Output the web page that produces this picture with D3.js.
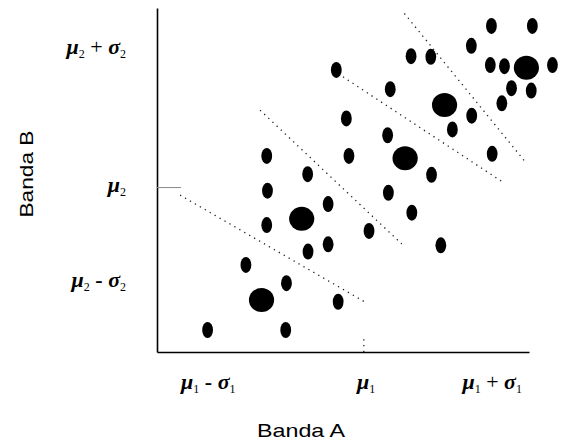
<!DOCTYPE html>
<html>
<head>
<meta charset="utf-8">
<script src="https://cdn.jsdelivr.net/npm/d3@7/dist/d3.min.js"></script>
<style>
  body { margin: 0; background: #fff; }
  text { fill: #000; }
</style>
</head>
<body>
<script>
// pixel values in plot units (0..100 on each axis)
var smallPts = [
  [13.6, 6.4], [34.6, 6.4], [23.9, 25.3], [34.8, 20.0], [48.7, 14.6],
  [40.6, 29.2], [46.0, 31.3], [29.5, 36.9], [29.7, 46.9], [29.5, 57.0],
  [40.5, 51.7], [46.0, 43.0], [51.6, 57.0], [50.9, 67.9], [57.0, 35.2],
  [62.2, 46.3], [62.0, 63.0], [73.8, 51.5], [68.5, 40.5], [76.3, 31.0],
  [48.2, 82.0], [62.7, 76.4], [68.3, 86.0], [73.6, 85.8], [84.6, 68.7],
  [79.4, 64.7], [90.1, 57.6], [84.5, 89.0], [89.9, 94.8], [100.9, 94.8],
  [89.6, 83.4], [93.4, 83.1], [106.3, 83.4], [95.3, 76.7], [100.6, 76.0],
  [92.7, 72.3]
]
var bigPts = [[28.1, 15.1], [38.9, 38.7], [66.7, 56.3], [77.3, 71.8], [99.3, 82.6]]

// decision boundaries between the classes
var dividers = [
  [[66.5, 98.4], [99.2, 55.0]],
  [[50.0, 80.0], [93.5, 49.0]],
  [[27.7, 70.3], [65.8, 31.4]],
  [[6.2, 45.6], [55.8, 14.6]]
]
var muMark = [[55.6, 0], [55.6, 4.9]]

var xTickVals = [13.8, 56.2, 90.1]
var xTickLabels = [["\u03bc", "1", " - ", "\u03c3", "1"], ["\u03bc", "1"], ["\u03bc", "1", " + ", "\u03c3", "1"]]
var yTickVals = [87.8, 47.8, 20.1]
var yTickLabels = [["\u03bc", "2", " + ", "\u03c3", "2"], ["\u03bc", "2"], ["\u03bc", "2", " - ", "\u03c3", "2"]]
var yMarkVal = 47.8

var c = {totalWidth: 566, totalHeight: 441, margin: {top: 8, right: 37, bottom: 89, left: 157}}
c.width = c.totalWidth - c.margin.left - c.margin.right
c.height = c.totalHeight - c.margin.top - c.margin.bottom

var svg = d3.select('body').append('svg')
    .attr('width', c.totalWidth)
    .attr('height', c.totalHeight)
  .append('g')
    .attr('transform', 'translate(' + c.margin.left + ',' + c.margin.top + ')')

var x = d3.scaleLinear().domain([0, 100]).range([0, c.width])
var y = d3.scaleLinear().domain([0, 100]).range([c.height, 0])
var line = d3.line().x(function(d){ return x(d[0]) }).y(function(d){ return y(d[1]) })

// axes: just the lines, labels are drawn by hand below
svg.append('g')
    .attr('class', 'x axis')
    .attr('transform', 'translate(0,' + c.height + ')')
    .call(d3.axisBottom(x).tickValues([]).tickSizeOuter(0))
svg.append('g')
    .attr('class', 'y axis')
    .call(d3.axisLeft(y).tickValues([]).tickSizeOuter(0))
svg.selectAll('.axis path').attr('stroke', '#000').attr('stroke-width', 1.6)

svg.append('line')
    .attr('x1', 0).attr('x2', 24)
    .attr('y1', y(yMarkVal)).attr('y2', y(yMarkVal))
    .attr('stroke', '#888').attr('stroke-width', 1)

svg.selectAll('.divider')
    .data(dividers.concat([muMark]))
  .enter().append('path')
    .attr('class', 'divider')
    .attr('d', line)
    .attr('fill', 'none')
    .attr('stroke', '#222')
    .attr('stroke-width', 1.3)
    .attr('stroke-dasharray', '1.3,4.4')

svg.selectAll('.pt')
    .data(smallPts)
  .enter().append('ellipse')
    .attr('class', 'pt')
    .attr('cx', function(d){ return x(d[0]) })
    .attr('cy', function(d){ return y(d[1]) })
    .attr('rx', 5.4).attr('ry', 8)
    .attr('fill', '#000')

svg.selectAll('.centre')
    .data(bigPts)
  .enter().append('ellipse')
    .attr('class', 'centre')
    .attr('cx', function(d){ return x(d[0]) })
    .attr('cy', function(d){ return y(d[1]) })
    .attr('rx', 12.6).attr('ry', 12)
    .attr('fill', '#000')

// greek letter, subscript, operator, greek letter, subscript
function mathLabel(sel, parts){
  parts.forEach(function(p, i){
    var ts = sel.append('tspan').text(p)
    if (i % 3 === 1) {
      ts.attr('font-size', 12).attr('dy', 4).style('font-style', 'normal').style('font-weight', 'normal')
    } else if (i % 3 === 2) {
      ts.attr('dy', -4).style('font-style', 'normal').style('font-weight', p.trim() === '-' ? 'bold' : 'normal')
    } else {
      ts.style('font-weight', 'bold')
    }
  })
}

svg.selectAll('.xlab')
    .data(xTickVals)
  .enter().append('text')
    .attr('class', 'xlab')
    .attr('x', function(d){ return x(d) })
    .attr('y', 389 - c.margin.top)
    .attr('text-anchor', 'middle')
    .style('font-family', 'Liberation Serif')
    .style('font-style', 'italic')
    .style('font-size', '22px')
    .each(function(d, i){ mathLabel(d3.select(this), xTickLabels[i]) })

svg.selectAll('.ylab')
    .data(yTickVals)
  .enter().append('text')
    .attr('class', 'ylab')
    .attr('x', -31)
    .attr('y', function(d){ return y(d) + 4 })
    .attr('text-anchor', 'end')
    .style('font-family', 'Liberation Serif')
    .style('font-style', 'italic')
    .style('font-size', '22px')
    .each(function(d, i){ mathLabel(d3.select(this), yTickLabels[i]) })

svg.append('text')
    .attr('x', c.width / 2 - 42)
    .attr('y', 437 - c.margin.top)
    .attr('text-anchor', 'middle')
    .attr('textLength', 88).attr('lengthAdjust', 'spacingAndGlyphs')
    .style('font-family', 'Liberation Sans')
    .style('font-size', '19px')
    .text('Banda A')

svg.append('text')
    .attr('transform', 'translate(' + (33 - c.margin.left) + ',' + (174 - c.margin.top) + ') rotate(-90)')
    .attr('text-anchor', 'middle')
    .attr('textLength', 87).attr('lengthAdjust', 'spacingAndGlyphs')
    .style('font-family', 'Liberation Sans')
    .style('font-size', '19px')
    .text('Banda B')
</script>
</body>
</html>
